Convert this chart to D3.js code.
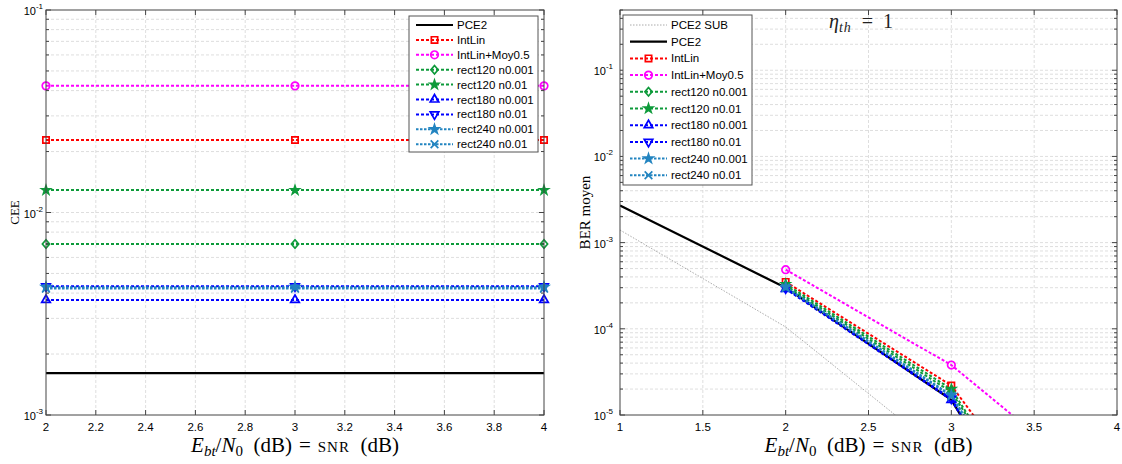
<!DOCTYPE html>
<html><head><meta charset="utf-8">
<script src="https://cdn.jsdelivr.net/npm/d3@7"></script>
<style>body{margin:0;background:#fff}svg{display:block}</style>
</head><body>
<svg id="c" width="1122" height="464"></svg>
<script>
// ---------- DATA ----------
const seriesNames = ["PCE2 SUB","PCE2","IntLin","IntLin+Moy0.5","rect120 n0.001","rect120 n0.01","rect180 n0.001","rect180 n0.01","rect240 n0.001","rect240 n0.01"];
// Left panel : CEE vs SNR
const ceeX = [2, 3, 4];
const ceePCE2   = [0.00161, 0.00161, 0.00161];
const ceeIntLin = [0.0228, 0.0228, 0.0228];
const ceeIntLinMoy = [0.0422, 0.0422, 0.0422];
const ceeR120a = [0.00699, 0.00699, 0.00699];
const ceeR120b = [0.0129, 0.0129, 0.0129];
const ceeR180a = [0.0037, 0.0037, 0.0037];
const ceeR180b = [0.00432, 0.00432, 0.00432];
const ceeR240a = [0.00428, 0.00428, 0.00428];
const ceeR240b = [0.00421, 0.00421, 0.00421];
// Right panel : BER moyen vs SNR
const berX1 = [1, 2, 3];
const berPCE2SUB = [0.0014, 0.000105, 0.000003];
const berX0 = [1, 2, 3, 4];
const berPCE2 = [0.0027, 0.0003, 0.0000150, 0.00000001];
const berX = [2, 3, 4];
const berIntLin = [0.00035, 0.000022, 0.000000056];
const berIntLinMoy = [0.000485, 0.000038, 0.000001];
const berR120a = [0.000315, 0.0000185, 0.00000002];
const berR120b = [0.00033, 0.0000200, 0.00000002];
const berR180a = [0.00029, 0.0000150, 0.00000001];
const berR180b = [0.000295, 0.0000155, 0.00000001];
const berR240a = [0.000305, 0.0000170, 0.000000015];
const berR240b = [0.0003, 0.0000165, 0.000000015];
const leftXTicks = [2, 2.2, 2.4, 2.6, 2.8, 3, 3.2, 3.4, 3.6, 3.8, 4];
const rightXTicks = [1, 1.5, 2, 2.5, 3, 3.5, 4];

// ---------- STYLES ----------
const green = "#0d9a3a", lblue = "#2284c0";
const times = d3.symbolTimes || d3.symbolCross;
const diamondSym = {draw(ctx, size) { const r = Math.sqrt(size) / 2 * 1.2;
  ctx.moveTo(0, -r); ctx.lineTo(r * 0.85, 0); ctx.lineTo(0, r); ctx.lineTo(-r * 0.85, 0); ctx.closePath(); }};
const styles = {
  "PCE2 SUB": {color:"#a0a0a0", width:0.9, dash:"1.5,1.5", sym:null},
  "PCE2": {color:"#000", width:2.2, dash:null, sym:null},
  "IntLin": {color:"#ff0000", width:2, dash:"3,2", sym:d3.symbolSquare, size:40, fill:"none"},
  "IntLin+Moy0.5": {color:"#ff00ff", width:2, dash:"3,2", sym:d3.symbolCircle, size:45, fill:"none"},
  "rect120 n0.001": {color:green, width:2, dash:"3,2", sym:diamondSym, size:50, fill:"none"},
  "rect120 n0.01": {color:green, width:2, dash:"3,2", sym:d3.symbolStar, size:22, fill:green},
  "rect180 n0.001": {color:"#0000ff", width:2, dash:"3,2", sym:d3.symbolTriangle, size:32, fill:"none"},
  "rect180 n0.01": {color:"#0000ff", width:2, dash:"3,2", sym:d3.symbolTriangle, size:32, fill:"none", rot:180},
  "rect240 n0.001": {color:lblue, width:2, dash:"2.5,1.5", sym:d3.symbolStar, size:24, fill:lblue},
  "rect240 n0.01": {color:lblue, width:2, dash:"2.5,1.5", sym:times, size:40, fill:"none", rot:(d3.symbolTimes?0:45)}
};

const svg = d3.select("#c");
const FONT = "'Liberation Sans', Arial, sans-serif";
const SERIF = "'Liberation Serif','DejaVu Serif',serif";

function panel(o) {
  const g = svg.append("g");
  const x = d3.scaleLinear().domain(o.xd).range([o.x0, o.x1]);
  const y = d3.scaleLog().domain(o.yd).range([o.y1, o.y0]);
  const id = "clip" + o.x0;
  svg.append("clipPath").attr("id", id).append("rect")
    .attr("x", o.x0).attr("y", o.y0).attr("width", o.x1 - o.x0).attr("height", o.y1 - o.y0);
  const lo = Math.floor(Math.log10(o.yd[0])), hi = Math.ceil(Math.log10(o.yd[1]));
  const majors = [], minors = [];
  for (let d = lo; d <= hi; d++) for (let k = 1; k <= 9; k++) {
    const v = k * Math.pow(10, d);
    if (v < o.yd[0] * 0.999 || v > o.yd[1] * 1.001) continue;
    (k === 1 ? majors : minors).push(v);
  }
  const gridC = "#d6d6d6";
  g.selectAll(".vg").data(o.xticks.slice(1, -1)).join("line")
    .attr("x1", d => x(d)).attr("x2", d => x(d)).attr("y1", o.y0).attr("y2", o.y1)
    .attr("stroke", gridC).attr("stroke-width", 0.8).attr("stroke-dasharray", "3,2");
  g.selectAll(".hg").data(majors.concat(minors).filter(v => Math.abs(y(v) - o.y0) > 1 && Math.abs(y(v) - o.y1) > 1)).join("line")
    .attr("x1", o.x0).attr("x2", o.x1).attr("y1", d => y(d)).attr("y2", d => y(d))
    .attr("stroke", gridC).attr("stroke-width", 0.8).attr("stroke-dasharray", "3,2");
  const line = d3.line().x(d => x(d[0])).y(d => y(d[1]));
  o.series.forEach(s => {
    const st = styles[s.name];
    const pts = s.xs.map((xv, i) => [xv, s.ys[i]]);
    g.append("path").attr("d", line(pts)).attr("fill", "none")
      .attr("stroke", st.color).attr("stroke-width", st.width)
      .attr("stroke-dasharray", st.dash).attr("clip-path", `url(#${id})`);
  });
  o.series.forEach(s => {
    const st = styles[s.name];
    if (!st.sym) return;
    const pts = s.xs.map((xv, i) => [xv, s.ys[i]]).filter(p => p[1] >= o.yd[0] && p[1] <= o.yd[1]);
    g.selectAll(null).data(pts).join("path")
      .attr("d", d3.symbol(st.sym, st.size)())
      .attr("transform", d => `translate(${x(d[0])},${y(d[1])}) rotate(${st.rot || 0})`)
      .attr("fill", st.fill === "none" ? "none" : st.fill).attr("stroke", st.color).attr("stroke-width", 1.7);
  });
  const axC = "#444";
  g.append("rect").attr("x", o.x0).attr("y", o.y0).attr("width", o.x1 - o.x0).attr("height", o.y1 - o.y0)
    .attr("fill", "none").attr("stroke", axC).attr("stroke-width", 1);
  o.xticks.forEach(t => {
    const px = x(t);
    g.append("line").attr("x1", px).attr("x2", px).attr("y1", o.y1).attr("y2", o.y1 - 5).attr("stroke", axC);
    g.append("line").attr("x1", px).attr("x2", px).attr("y1", o.y0).attr("y2", o.y0 + 5).attr("stroke", axC);
    g.append("text").attr("x", px).attr("y", o.y1 + 16).attr("text-anchor", "middle")
      .attr("font-family", FONT).attr("font-size", 11.5).text(String(t));
  });
  majors.concat(minors).forEach(v => {
    const py = y(v), len = majors.includes(v) ? 5 : 3;
    g.append("line").attr("x1", o.x0).attr("x2", o.x0 + len).attr("y1", py).attr("y2", py).attr("stroke", axC);
    g.append("line").attr("x1", o.x1).attr("x2", o.x1 - len).attr("y1", py).attr("y2", py).attr("stroke", axC);
  });
  majors.forEach(v => {
    const py = y(v);
    const t = g.append("text").attr("x", o.x0 - o.tickGap).attr("y", py + 5).attr("text-anchor", "end")
      .attr("font-family", FONT).attr("font-size", 11);
    t.append("tspan").text("10");
    t.append("tspan").attr("dy", -6).attr("font-size", 8).text(String(Math.round(Math.log10(v))));
  });
  // x label
  const xl = g.append("text").attr("x", (o.x0 + o.x1) / 2).attr("y", 452).attr("text-anchor", "middle")
    .attr("font-family", SERIF).attr("font-size", 21);
  xl.append("tspan").attr("font-style", "italic").text("E");
  xl.append("tspan").attr("font-style", "italic").attr("font-size", 15).attr("dy", 4).text("bt");
  xl.append("tspan").attr("dy", -4).text("/");
  xl.append("tspan").attr("font-style", "italic").text("N");
  xl.append("tspan").attr("font-size", 15).attr("dy", 4).text("0");
  xl.append("tspan").attr("dy", -4).text("\u2002(dB)\u2004=\u2004");
  xl.append("tspan").attr("font-size", 15).attr("letter-spacing", 1).text("SNR");
  xl.append("tspan").text("\u2002(dB)");
  g.append("text").attr("transform", `translate(${o.ylx},${(o.y0 + o.y1) / 2}) rotate(-90)`)
    .attr("text-anchor", "middle").attr("font-family", SERIF).attr("font-size", o.ylSize).text(o.ylabel);
  const L = o.legend;
  g.append("rect").attr("x", L.x).attr("y", L.y).attr("width", L.w).attr("height", L.h)
    .attr("fill", "#fff").attr("stroke", "#555").attr("stroke-width", 1);
  o.legendNames.forEach((n, i) => {
    const st = styles[n];
    const cy = L.y + L.first + i * L.step;
    const lx0 = L.x + 7, lx1 = L.x + 44;
    g.append("line").attr("x1", lx0).attr("x2", lx1).attr("y1", cy).attr("y2", cy)
      .attr("stroke", st.color).attr("stroke-width", st.width).attr("stroke-dasharray", st.dash);
    if (st.sym) g.append("path").attr("d", d3.symbol(st.sym, st.size)())
      .attr("transform", `translate(${(lx0 + lx1) / 2},${cy}) rotate(${st.rot || 0})`)
      .attr("fill", st.fill === "none" ? "none" : st.fill).attr("stroke", st.color).attr("stroke-width", 1.7);
    g.append("text").attr("x", L.x + 48).attr("y", cy + 4).attr("font-family", FONT)
      .attr("font-size", 11.5).text(n);
  });
}

panel({
  xd: [2, 4], yd: [1e-3, 1e-1], x0: 46, x1: 544, y0: 10, y1: 415, xticks: leftXTicks, tickGap: 3,
  ylabel: "CEE", ylx: 19, ylSize: 13,
  series: [
    {name: "PCE2", xs: ceeX, ys: ceePCE2},
    {name: "IntLin", xs: ceeX, ys: ceeIntLin},
    {name: "IntLin+Moy0.5", xs: ceeX, ys: ceeIntLinMoy},
    {name: "rect120 n0.001", xs: ceeX, ys: ceeR120a},
    {name: "rect120 n0.01", xs: ceeX, ys: ceeR120b},
    {name: "rect180 n0.001", xs: ceeX, ys: ceeR180a},
    {name: "rect180 n0.01", xs: ceeX, ys: ceeR180b},
    {name: "rect240 n0.001", xs: ceeX, ys: ceeR240a},
    {name: "rect240 n0.01", xs: ceeX, ys: ceeR240b}
  ],
  legendNames: seriesNames.slice(1),
  legend: {x: 409, y: 16, w: 129, h: 136, first: 9, step: 14.9}
});

panel({
  xd: [1, 4], yd: [1e-5, 0.5], x0: 620, x1: 1117, y0: 10, y1: 415, xticks: rightXTicks, tickGap: 7,
  ylabel: "BER moyen", ylx: 590, ylSize: 15,
  series: [
    {name: "PCE2 SUB", xs: berX1, ys: berPCE2SUB},
    {name: "PCE2", xs: berX0, ys: berPCE2},
    {name: "IntLin", xs: berX, ys: berIntLin},
    {name: "IntLin+Moy0.5", xs: berX, ys: berIntLinMoy},
    {name: "rect120 n0.001", xs: berX, ys: berR120a},
    {name: "rect120 n0.01", xs: berX, ys: berR120b},
    {name: "rect180 n0.001", xs: berX, ys: berR180a},
    {name: "rect180 n0.01", xs: berX, ys: berR180b},
    {name: "rect240 n0.001", xs: berX, ys: berR240a},
    {name: "rect240 n0.01", xs: berX, ys: berR240b}
  ],
  legendNames: seriesNames,
  legend: {x: 623, y: 15, w: 129, h: 170, first: 10, step: 16.7}
});

const an = svg.append("text").attr("x", 829).attr("y", 28).attr("font-family", SERIF).attr("font-size", 20).attr("fill", "#222");
an.append("tspan").attr("font-style", "italic").text("\u03b7");
an.append("tspan").attr("font-style", "italic").attr("font-size", 14).attr("dy", 4).attr("letter-spacing", 1).text("th");
an.append("tspan").attr("dy", -4).text("\u2002=\u20021");
</script>
</body></html>
